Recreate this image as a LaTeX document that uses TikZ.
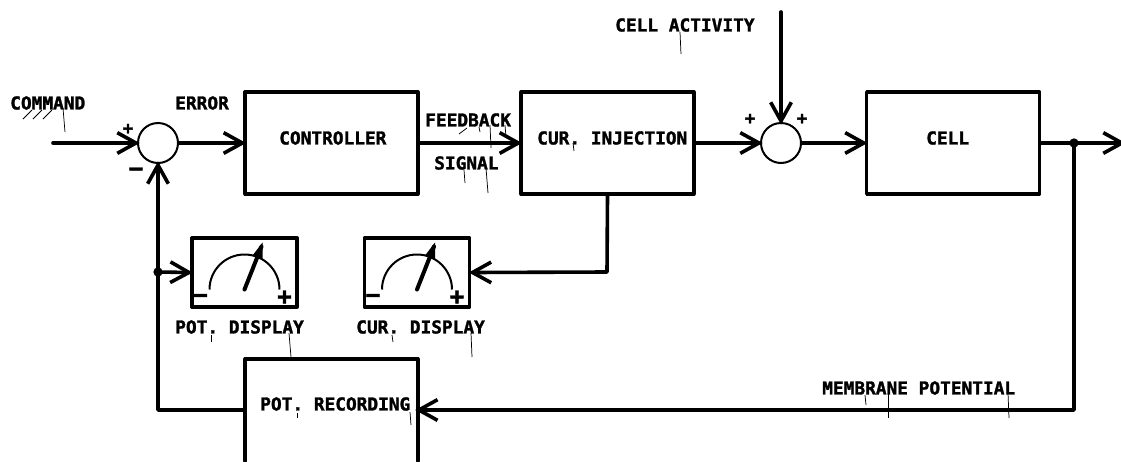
\documentclass[tikz,border=0pt]{standalone}
\usepackage{fontspec}
\setmainfont{DejaVu Sans Mono}[BoldFont={DejaVu Sans Mono Bold},BoldFeatures={FakeBold=1.6}]
\usetikzlibrary{arrows.meta,calc}
\tikzset{
  x=0.75pt,y=-0.75pt,
  wire/.style={line width=2.7pt,line cap=round,line join=round},
  flow/.style={wire,shorten >=-2pt,-{Straight Barb[length=14pt,width=15.5pt,line width=2.7pt]}},
  blockbox/.style={draw,line width=2.7pt,line join=round,minimum width=129.5pt,minimum height=76.5pt,inner sep=0pt},
  meterbox/.style={draw,line width=2.7pt,line join=round,minimum width=79pt,minimum height=51.5pt,inner sep=0pt},
  sumnode/.style={circle,draw,line width=1.5pt,minimum size=30pt,inner sep=0pt},
  lbl/.style={font=\fontsize{13.35pt}{14pt}\selectfont\bfseries,inner sep=0pt,anchor=west},
  sign/.style={font=\fontsize{13pt}{14pt}\selectfont\bfseries,inner sep=0pt},
  bigsign/.style={font=\fontsize{18pt}{18pt}\selectfont\bfseries,inner sep=0pt},
  tick/.style={line width=0.55pt},
  dot/.style={circle,fill=black,inner sep=0pt,minimum size=7pt},
}
\newcommand{\metersym}[1]{%
  \draw[line width=1.5pt] ($(#1.center)+(-35,17)$) arc[start angle=180,end angle=0,radius=26.25pt];
  \draw[wire,line width=3pt] ($(#1.center)+(0,17)$) -- ($(#1.center)+(17,-26)$);
  \fill ($(#1.center)+(18,-30)$) -- ($(#1.center)+(8,-17)$) -- ($(#1.center)+(18,-13)$) -- cycle;
  \node[bigsign] at ($(#1.center)+(-44,26)$) {−};
  \node[bigsign] at ($(#1.center)+(40,25)$) {+};
}
\begin{document}
\begin{tikzpicture}
\useasboundingbox (0,0) rectangle (1121,461);
\fill[white] (0,0) rectangle (1121,461);
% blocks
\node[blockbox] (ctrl) at (331.5,143) {};
\node[blockbox] (inj) at (607.5,143) {};
\node[blockbox] (cell) at (953,143) {};
\node[blockbox,draw=none,outer sep=0pt] (rec) at (331.5,410) {};
\draw[wire] (rec.south west) -- (rec.north west) -- (rec.north east) -- (rec.south east);
\node[sumnode] (s1) at (158,143) {};
\node[sumnode] (s2) at (781,143) {};
\node[meterbox] (m1) at (244.5,272.5) {};
\node[meterbox] (m2) at (417,272.5) {};
\metersym{m1}
\metersym{m2}
% junctions and free ends
\coordinate (cmd) at (53,143);
\coordinate (act) at (781,12);
\coordinate (out) at (1123,143);
\node[dot] (j1) at (1074,143) {};
\node[dot] (j2) at (158,272) {};
\coordinate (c1) at (1074,410);
\coordinate (c2) at (158,410);
\coordinate (c3) at (607,272);
% connectors
\draw[flow] (cmd) -- (s1.west);
\draw[flow] (s1.east) -- (ctrl.west);
\draw[flow] (ctrl.east) -- (inj.west);
\draw[flow] (inj.east) -- (s2.west);
\draw[flow] (act) -- (s2.north);
\draw[flow] (s2.east) -- (cell.west);
\draw[flow] (cell.east) -- (out);
\draw[flow] (j1.center) -- (c1) -- (rec.east);
\draw[flow] (rec.west) -- (c2) -- (s1.south);
\draw[flow] (j2.center) -- (m1.west);
\draw[flow] (inj.south) -- (c3) -- (m2.east);
% signs
\node[sign] (p1) at (128,129) {+};
\node[bigsign] (p2) at (136,172) {−};
\node[sign] (p3) at (750,119) {+};
\node[sign] (p4) at (802,119) {+};
% labels
\node[lbl] (t1) at (10,103) {COMMAND};
\node[lbl] (t2) at (175,103) {ERROR};
\node[lbl] (t3) at (279,138) {CONTROLLER};
\node[lbl] (t4) at (425,120) {FEEDBACK};
\node[lbl] (t5) at (434,163) {SIGNAL};
\node[lbl] (t6) at (537,138) {CUR. INJECTION};
\node[lbl] (t7) at (615,25) {CELL ACTIVITY};
\node[lbl] (t8) at (926,138) {CELL};
\node[lbl] (t9) at (175,327) {POT. DISPLAY};
\node[lbl] (t10) at (356,327) {CUR. DISPLAY};
\node[lbl] (t11) at (260,404) {POT. RECORDING};
\node[lbl] (t12) at (822,388) {MEMBRANE POTENTIAL};
% stray pen ticks on the lettering
\foreach \a/\b in {32/110,42/110,52/110}
  \draw[tick] (\a,\b) -- ++(-9,9);
\draw[tick] (63,108) -- (65,132);
\draw[tick] (211,335) -- (211,342);
\draw[tick] (289,333) -- (291,357);
\draw[tick] (392,335) -- (393,342);
\draw[tick] (471,333) -- (472,357);
\draw[tick] (297,413) -- (297,418);
\draw[tick] (410,412) -- (411,425);
\draw[tick] (680,32) -- (681,54);
\draw[tick] (467,128) -- (459,134);
\draw[tick] (479,127) -- (480,132);
\draw[tick] (490,125) -- (491,148);
\draw[tick] (505,125) -- (506,137);
\draw[tick] (464,170) -- (465,183);
\draw[tick] (486,168) -- (488,193);
\draw[tick] (573,143) -- (574,151);
\draw[tick] (865,395) -- (866,405);
\draw[tick] (888,393) -- (888,418);
\draw[tick] (1008,393) -- (1009,418);
\end{tikzpicture}
\end{document}
